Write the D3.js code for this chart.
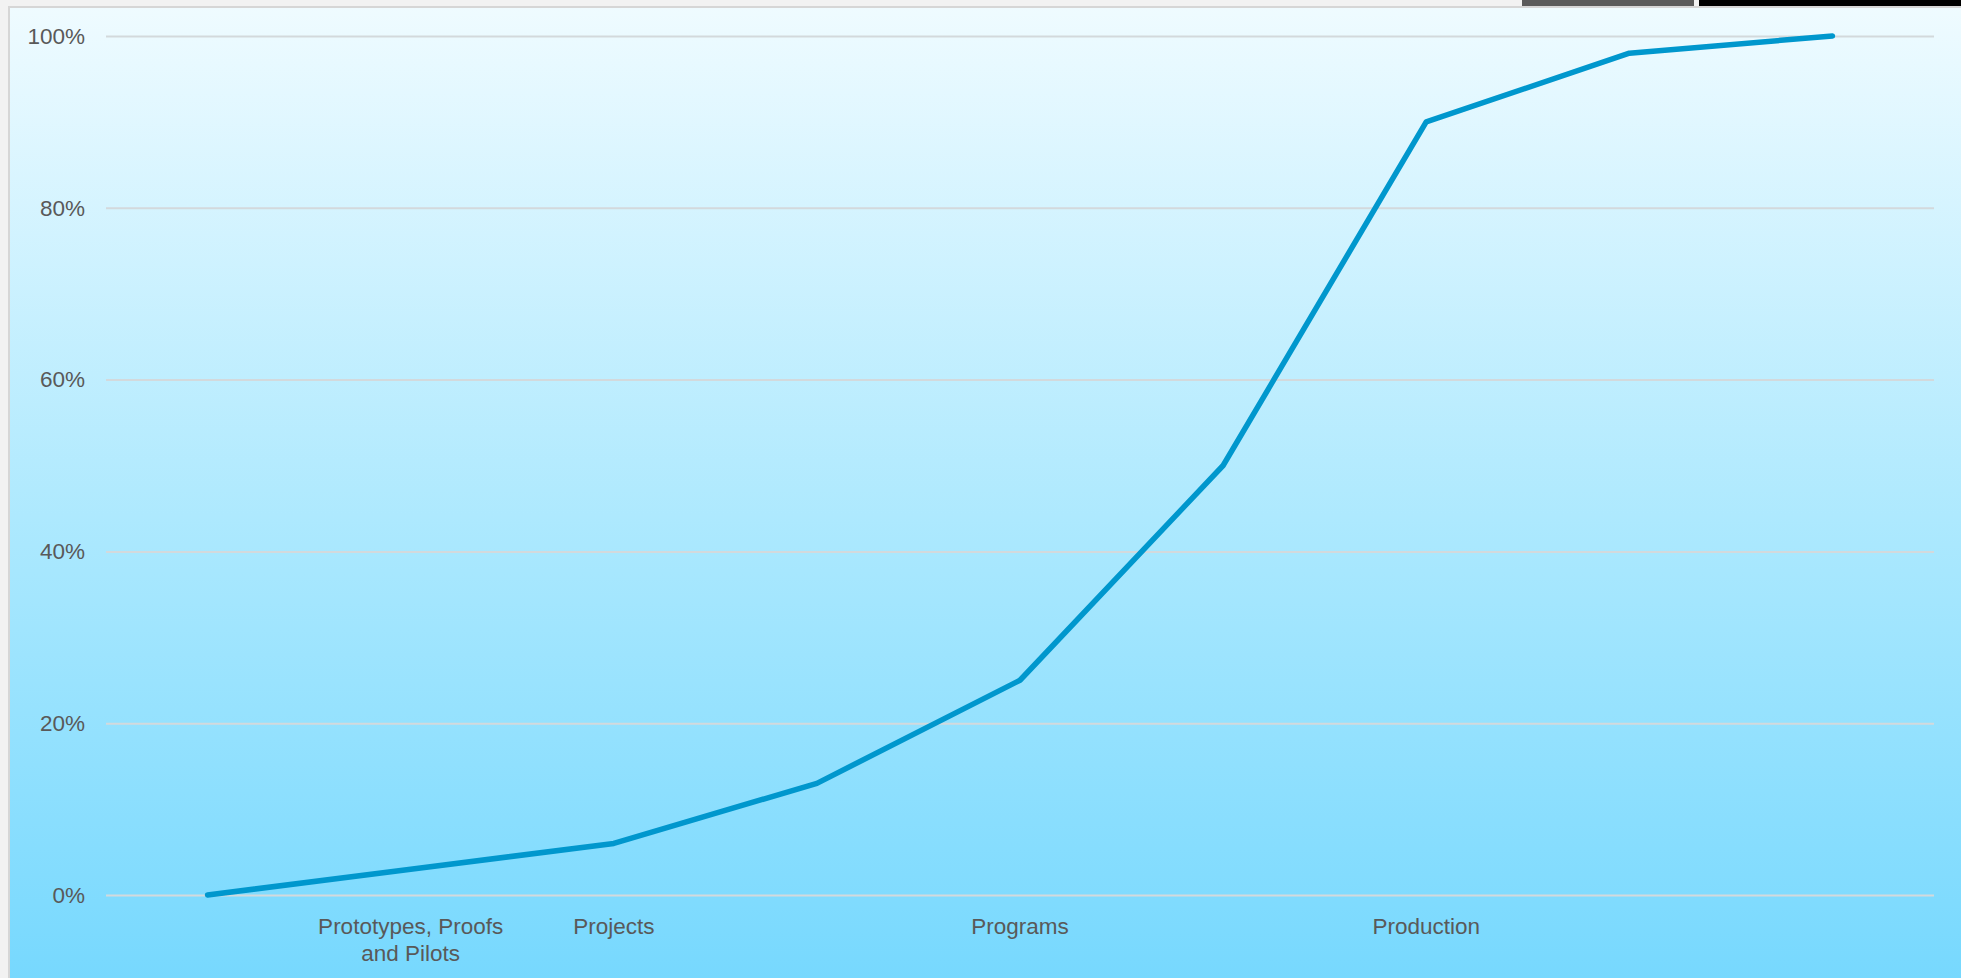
<!DOCTYPE html>
<html>
<head>
<meta charset="utf-8">
<script src="https://cdnjs.cloudflare.com/ajax/libs/d3/7.8.5/d3.min.js"></script>
<style>
  html, body { margin: 0; padding: 0; background: #f2f2f2; overflow: hidden; }
  svg { display: block; }
</style>
</head>
<body>
<div class="draw-section"></div>
<script>
// adoption curve stages (only some slots carry a label)
const categories = ['c0', 'c1', 'c2', 'c3', 'c4', 'c5', 'c6', 'c7', 'c8'];
const categoryLabels = ['', 'Prototypes, Proofs|and Pilots', 'Projects', '', 'Programs', '', 'Production', '', ''];
const values = [0, 3, 6, 13, 25, 50, 90, 98, 100];
const yTicks = [0, 20, 40, 60, 80, 100];

const W = 1961;
const H = 978;
const margin = { top: 36, right: 27, bottom: 83, left: 106 };

let svg = d3
  .select('.draw-section')
  .append('svg')
  .attr('width', W)
  .attr('height', H);

let defs = svg.append('defs');
let grad = defs
  .append('linearGradient')
  .attr('id', 'bg')
  .attr('x1', 0)
  .attr('y1', 0)
  .attr('x2', 0)
  .attr('y2', 1);
grad.append('stop').attr('offset', '0%').attr('stop-color', '#effbff');
grad.append('stop').attr('offset', '55%').attr('stop-color', '#aae8fe');
grad.append('stop').attr('offset', '100%').attr('stop-color', '#76d8fe');

// chart panel
svg
  .append('rect')
  .attr('x', 9)
  .attr('y', 7)
  .attr('width', W)
  .attr('height', H)
  .attr('fill', 'url(#bg)')
  .attr('stroke', '#d6d6d6')
  .attr('stroke-width', 2);

// window bits at the top right
svg.append('rect').attr('x', 1522).attr('y', 0).attr('width', 172).attr('height', 6).attr('fill', '#5b5b5b');
svg.append('rect').attr('x', 1699).attr('y', 0).attr('width', W - 1699).attr('height', 6).attr('fill', '#000000');

let g = svg.append('g').attr('transform', `translate(${margin.left},${margin.top})`);

const innerW = W - margin.left - margin.right;
const innerH = H - margin.top - margin.bottom;

let x = d3
  .scaleBand()
  .domain(categories)
  .range([0, innerW]);

let y = d3
  .scaleLinear()
  .domain([0, 100])
  .range([innerH, 0]);

// gridlines
let yAxis = d3
  .axisLeft(y)
  .tickValues(yTicks)
  .tickSize(-innerW)
  .tickPadding(21)
  .tickFormat(d => d + '%');

let drawnY = g.append('g').attr('class', 'yaxis').call(yAxis);
drawnY.select('.domain').remove();
drawnY
  .selectAll('line')
  .attr('stroke', '#d3d9dc')
  .attr('stroke-width', 2);
drawnY
  .selectAll('text')
  .attr('fill', '#595959')
  .style('font-family', '"Liberation Sans", Arial, sans-serif')
  .style('font-size', '22.5px');

// category labels
let xAxis = d3
  .axisBottom(x)
  .tickSize(0)
  .tickPadding(0)
  .tickFormat('');

let drawnX = g
  .append('g')
  .attr('class', 'xaxis')
  .attr('transform', `translate(0,${innerH})`)
  .call(xAxis);
drawnX.select('.domain').remove();

drawnX
  .selectAll('.tick')
  .append('text')
  .attr('fill', '#595959')
  .attr('text-anchor', 'middle')
  .style('font-family', '"Liberation Sans", Arial, sans-serif')
  .style('font-size', '22.5px')
  .each(function(d, i) {
    let lines = categoryLabels[i].split('|').filter(s => s.length);
    let t = d3.select(this);
    lines.forEach((s, j) => {
      t.append('tspan')
        .attr('x', 0)
        .attr('y', 39 + j * 27)
        .text(s);
    });
  });

// the curve
const line = d3
  .line()
  .x((d, i) => x(categories[i]) + x.bandwidth() / 2)
  .y(d => y(d));

g.append('path')
  .datum(values)
  .attr('d', line)
  .attr('fill', 'none')
  .attr('stroke', '#0097cd')
  .attr('stroke-width', 5.5)
  .attr('stroke-linecap', 'round')
  .attr('stroke-linejoin', 'round');
</script>
</body>
</html>
